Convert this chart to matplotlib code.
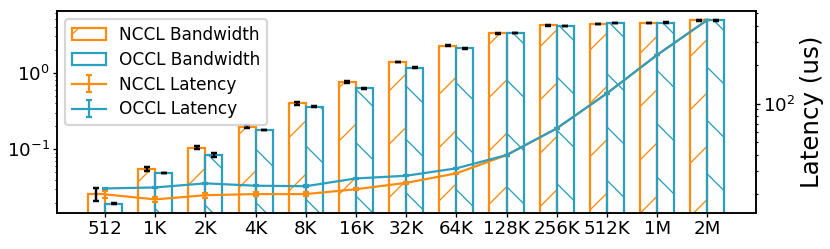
import numpy as np
import matplotlib
matplotlib.use("Agg")
import matplotlib.pyplot as plt

# ============================================= data
sizes = ["512", "1K", "2K", "4K", "8K", "16K", "32K", "64K", "128K", "256K", "512K", "1M", "2M"]

nccl_bw = [0.0259, 0.0553, 0.105, 0.197, 0.398, 0.75, 1.37, 2.25, 3.3, 4.16, 4.36, 4.45, 4.83]
occl_bw = [0.0195, 0.0491, 0.0843, 0.177, 0.36, 0.625, 1.16, 2.08, 3.3, 4.1, 4.45, 4.5, 4.83]
nccl_bw_err = [0.005, 0.004, 0.004, 0.01, 0.02, 0.02, 0.01, 0.02, 0.05, 0.04, 0.03, 0.03, 0.04]
occl_bw_err = [0.0003, 0.0005, 0.004, 0.001, 0.008, 0.006, 0.01, 0.03, 0.04, 0.03, 0.03, 0.03, 0.03]

nccl_lat = [19.8, 18.1, 19.5, 19.9, 19.9, 21.7, 24.3, 28.8, 39.9, 64.2, 120, 238, 444]
occl_lat = [22.0, 22.4, 24.1, 23.1, 22.9, 26.3, 27.6, 31.5, 39.9, 64.2, 120, 238, 444]
nccl_lat_err = [1.2, 0.9, 0.9, 0.8, 0.8, 0.4, 0.4, 0.4, 0.4, 0.5, 0.6, 0.8, 1.0]
occl_lat_err = [0.3, 0.3, 0.3, 0.3, 0.3, 0.3, 0.3, 0.3, 0.4, 0.5, 0.6, 0.8, 1.0]

orange = "#ff8c0f"
blue = "#2b9fc0"

# ============================================= figure
dpi = 160
plt.rcParams["hatch.linewidth"] = 0.6
fig = plt.figure(figsize=(830 / dpi, 249 / dpi), dpi=dpi)
ax = fig.add_axes([57 / 830, 36 / 249, (756 - 57) / 830, (213 - 11) / 249])
ax2 = ax.twinx()

x = np.arange(len(sizes))
w = 0.34

b1 = ax.bar(x - w / 2, nccl_bw, w, facecolor="none", edgecolor=orange, hatch="/", lw=1.0,
            yerr=nccl_bw_err, ecolor="black", capsize=1.3, error_kw=dict(elinewidth=1.1, capthick=1.1),
            label="NCCL Bandwidth")
b2 = ax.bar(x + w / 2, occl_bw, w, facecolor="none", edgecolor=blue, hatch="\\", lw=1.0,
            yerr=occl_bw_err, ecolor="black", capsize=1.3, error_kw=dict(elinewidth=1.1, capthick=1.1),
            label="OCCL Bandwidth")
ax.set_yscale("log")
ax.set_ylim(0.0147, 6.4)
ax.set_xlim(-0.956, 12.97)
ax.set_xticks(x)
ax.set_xticklabels(sizes)

l1 = ax2.errorbar(x, nccl_lat, yerr=nccl_lat_err, color=orange, lw=1.0, capsize=1.5,
                  label="NCCL Latency")
l2 = ax2.errorbar(x, occl_lat, yerr=occl_lat_err, color=blue, lw=1.0, capsize=1.5,
                  label="OCCL Latency")
ax2.set_yscale("log")
ax2.set_ylim(14.2, 521)
ax2.set_ylabel("Latency (us)", fontsize=11, labelpad=2)

for a in (ax, ax2):
    a.tick_params(which="major", labelsize=8.2, length=1.6, width=0.6, pad=1.6)
    a.tick_params(which="minor", length=1.0, width=0.5)
    for s in a.spines.values():
        s.set_linewidth(0.7)

ax2.legend([b1, b2, l1, l2], ["NCCL Bandwidth", "OCCL Bandwidth", "NCCL Latency", "OCCL Latency"],
           loc="upper left", fontsize=7.6, labelspacing=0.4)

fig.savefig("out.png", dpi=dpi)
